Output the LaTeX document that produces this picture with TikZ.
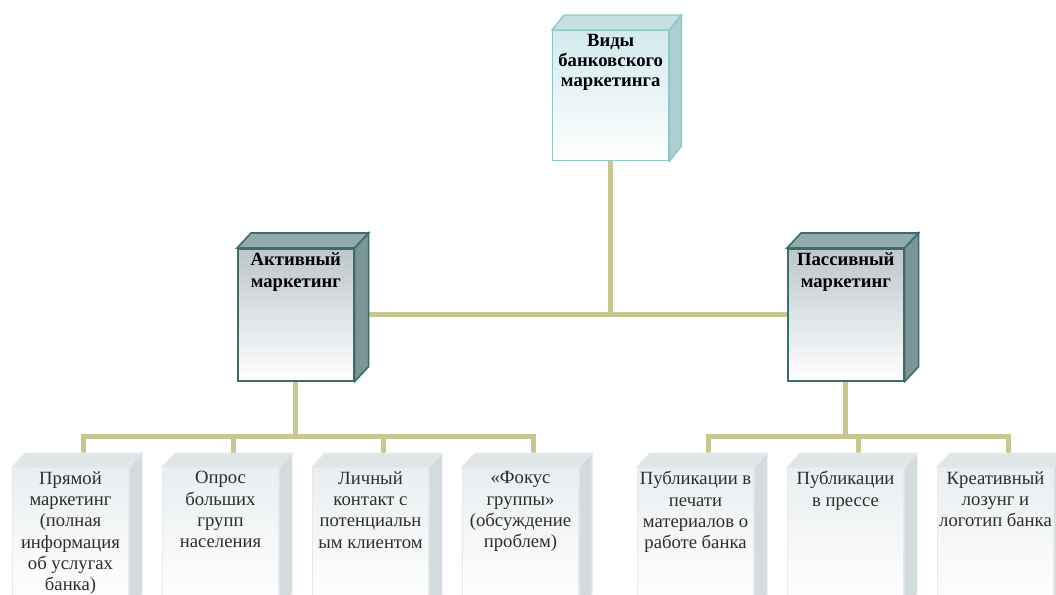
\documentclass[tikz,border=0pt]{standalone}
\usepackage{fontspec}
\setmainfont{Liberation Serif}
\usetikzlibrary{calc}
\pgfdeclarelayer{bg}
\pgfsetlayers{bg,main}

\definecolor{linkcol}{RGB}{200,198,145}
\definecolor{hiedge}{RGB}{145,198,198}
\definecolor{hitopc}{RGB}{196,224,224}
\definecolor{hisidec}{RGB}{172,208,208}
\definecolor{hifill}{RGB}{210,234,238}
\definecolor{midedge}{RGB}{62,108,108}
\definecolor{midtopc}{RGB}{145,170,170}
\definecolor{midsidec}{RGB}{122,150,150}
\definecolor{midfill}{RGB}{188,198,204}
\definecolor{lowedge}{RGB}{230,234,236}
\definecolor{lowtopc}{RGB}{224,229,231}
\definecolor{lowsidec}{RGB}{212,219,222}
\definecolor{lowfill}{RGB}{234,238,240}
\definecolor{txtgrey}{RGB}{45,45,45}

\tikzset{every picture/.style={line width=0.75pt}}
\tikzset{
  conn/.style={draw=linkcol, line width=3.75pt},
  hifront/.style={draw=hiedge, line width=1pt, top color=hifill, bottom color=white, anchor=north west, inner sep=0pt, minimum width=87pt, minimum height=97.5pt},
  hitop/.style={draw=hiedge, line width=1pt, fill=hitopc},
  hiside/.style={draw=hiedge, line width=1pt, fill=hisidec},
  midfront/.style={draw=midedge, line width=1.2pt, top color=midfill, bottom color=white, anchor=north west, inner sep=0pt, minimum width=87pt, minimum height=99pt},
  midtop/.style={draw=midedge, line width=1.2pt, fill=midtopc},
  midside/.style={draw=midedge, line width=1.2pt, fill=midsidec},
  lowfront/.style={draw=lowedge, top color=lowfill, bottom color=white, anchor=north west, inner sep=0pt, minimum width=87pt, minimum height=105pt},
  lowtop/.style={draw=lowedge, fill=lowtopc},
  lowside/.style={draw=lowedge, fill=lowsidec},
  boldlbl/.style={anchor=north, align=center, inner sep=3pt, text=black, font=\bfseries\fontsize{14pt}{15pt}\selectfont},
  midlbl/.style={boldlbl, font=\bfseries\fontsize{14pt}{16.5pt}\selectfont},
  lowlbl/.style={anchor=north, align=center, inner sep=3pt, text=txtgrey, font=\fontsize{14pt}{16pt}\selectfont}
}

\begin{document}
\begin{tikzpicture}[x=0.75pt,y=0.75pt,yscale=-1,xscale=1]
\useasboundingbox (0,0) rectangle (1056,594);
\clip (0,0) rectangle (1056,594);

%Shape: Cube [top]
\node[hifront] (vidy) at (552,30) {};
\draw[hitop] (vidy.north west) -- ($(vidy.north west)+(12,-15)$) -- ($(vidy.north east)+(12,-15)$) -- (vidy.north east) -- cycle;
\draw[hiside] (vidy.north east) -- ($(vidy.north east)+(12,-15)$) -- ($(vidy.south east)+(12,-15)$) -- (vidy.south east) -- cycle;

%Shape: Cube [middle row]
\node[midfront] (akt) at (237,248) {};
\node[midfront] (pas) at (787,248) {};
\foreach \n in {akt,pas}{
  \draw[midtop] (\n.north west) -- ($(\n.north west)+(14,-15)$) -- ($(\n.north east)+(14,-15)$) -- (\n.north east) -- cycle;
  \draw[midside] (\n.north east) -- ($(\n.north east)+(14,-15)$) -- ($(\n.south east)+(14,-15)$) -- (\n.south east) -- cycle;
}

%Shape: Cube [bottom row]
\node[lowfront] (b1) at (12,467) {};
\node[lowfront] (b2) at (162,467) {};
\node[lowfront] (b3) at (312,467) {};
\node[lowfront] (b4) at (462,467) {};
\node[lowfront] (b5) at (637,467) {};
\node[lowfront] (b6) at (787,467) {};
\node[lowfront] (b7) at (937,467) {};
\foreach \i in {1,...,7}{
  \draw[lowtop] (b\i.north west) -- ($(b\i.north west)+(13,-14)$) -- ($(b\i.north east)+(13,-14)$) -- (b\i.north east) -- cycle;
  \draw[lowside] (b\i.north east) -- ($(b\i.north east)+(13,-14)$) -- ($(b\i.south east)+(13,-14)$) -- (b\i.south east) -- cycle;
  \coordinate (t\i) at ($(b\i.north)+(13,-14)$);
}

% Text Node
\node[boldlbl] (vidyt) at (vidy.north) {Виды\\банковского\\маркетинга};
% Text Node
\node[midlbl] (aktt) at (akt.north) {Активный\\маркетинг};
% Text Node
\node[midlbl] (past) at (pas.north) {Пассивный\\маркетинг};
% Text Node
\node[lowlbl] (b1t) at (b1.north) {Прямой\\маркетинг\\(полная\\информация\\об услугах\\банка)};
% Text Node
\node[lowlbl] (b2t) at (b2.north) {Опрос\\больших\\групп\\населения};
% Text Node
\node[lowlbl] (b3t) at (b3.north) {Личный\\контакт с\\потенциальн\\ым клиентом};
% Text Node
\node[lowlbl] (b4t) at (b4.north) {«Фокус\\группы»\\(обсуждение\\проблем)};
% Text Node
\node[lowlbl] (b5t) at (b5.north) {Публикации в\\печати\\материалов о\\работе банка};
% Text Node
\node[lowlbl] (b6t) at (b6.north) {Публикации\\в прессе};
% Text Node
\node[lowlbl] (b7t) at (b7.north) {Креативный\\лозунг и\\логотип банка};

%Connectors
\begin{pgfonlayer}{bg}
\draw[conn] (vidy.south) -- (vidy.south |- akt.east);
\draw[conn] (akt.east) -- (pas.west);
\coordinate (abus) at ($(akt.south)+(0,55)$);
\coordinate (pbus) at ($(pas.south)+(0,55)$);
\draw[conn] (akt.south) -- (abus);
\draw[conn] (pas.south) -- (pbus);
\draw[conn] (t1) -- (t1 |- abus) -- (t4 |- abus) -- (t4);
\draw[conn] (t2) -- (t2 |- abus);
\draw[conn] (t3) -- (t3 |- abus);
\draw[conn] (t5) -- (t5 |- pbus) -- (t7 |- pbus) -- (t7);
\draw[conn] (t6) -- (t6 |- pbus);
\end{pgfonlayer}

\end{tikzpicture}
\end{document}
